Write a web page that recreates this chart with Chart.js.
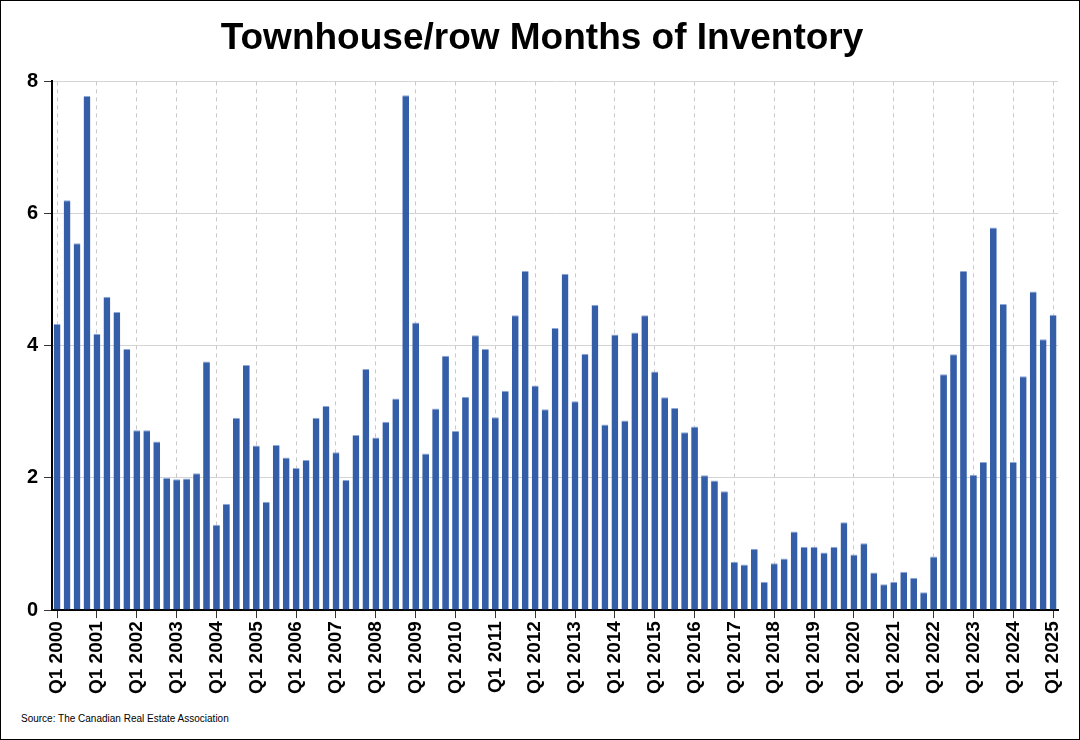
<!DOCTYPE html>
<html><head><meta charset="utf-8">
<script src="https://cdn.jsdelivr.net/npm/chart.js@4"></script>
<style>
html,body{margin:0;padding:0;background:#fff;}
#wrap{position:relative;width:1078px;height:738px;border:1px solid #000;}
#src{position:absolute;left:20px;top:712px;font:10px "Liberation Sans",Arial,sans-serif;color:#000;}
</style></head><body>
<div id="wrap"><canvas id="c" width="1078" height="696"></canvas><div id="src">Source: The Canadian Real Estate Association</div></div>
<script>
const years = [];
for (let y = 2000; y <= 2025; y++) years.push(y);
const categories = [];
years.forEach(y => { for (let q = 1; q <= 4; q++) if (y < 2025 || q === 1) categories.push('Q' + q + ' ' + y); });
const values = [
4.33,6.2,5.55,7.78, 4.18,4.74,4.51,3.95, 2.72,2.72,2.55,2.0, 1.98,1.99,2.07,3.76,
1.29,1.61,2.91,3.71, 2.49,1.64,2.5,2.31, 2.15,2.27,2.91,3.09, 2.39,1.97,2.65,3.65,
2.61,2.85,3.2,7.79, 4.35,2.37,3.05,3.85, 2.71,3.23,4.16,3.95, 2.92,3.32,4.46,5.13,
3.40,3.04,4.27,5.09, 3.16,3.88,4.62,2.81, 4.17,2.87,4.20,4.46, 3.61,3.22,3.06,2.69,
2.78,2.04,1.96,1.80, 0.73,0.69,0.93,0.43, 0.71,0.78,1.19,0.96, 0.96,0.87,0.96,1.33,
0.84,1.01,0.57,0.39, 0.43,0.58,0.49,0.27, 0.81,3.57,3.87,5.13, 2.05,2.24,5.79,4.63,
2.24,3.54,4.82,4.10, 4.47];
const yTicks = [0,2,4,6,8];
const isQ1 = i => categories[i] && categories[i].startsWith('Q1');
new Chart(document.getElementById('c'), {
  type: 'bar',
  data: { labels: categories, datasets: [{ data: values, backgroundColor: '#345ea8', borderColor: '#8fa8d6', borderWidth: {top:1}, borderSkipped: 'bottom', categoryPercentage: 0.68, barPercentage: 1 }] },
  options: {
    responsive: false, animation: false,
    layout: { padding: { left: 20, right: 16, top: 0, bottom: 0 } },
    plugins: {
      legend: { display: false }, tooltip: { enabled: false },
      title: { display: true, text: 'Townhouse/row Months of Inventory', color: '#000', font: { family: '"Liberation Sans", Arial', size: 37, weight: 'bold' }, padding: { top: 16, bottom: 20 } }
    },
    scales: {
      x: {
        offset: true,
        grid: { offset: false, color: ctx => isQ1(ctx.index) ? '#c8c8c8' : 'rgba(0,0,0,0)', tickColor: ctx => isQ1(ctx.index) ? '#333' : 'rgba(0,0,0,0)', tickLength: 8, drawOnChartArea: true },
        border: { color: '#000', width: 2, dash: [4,4] },
        ticks: { autoSkip: false, maxRotation: 90, minRotation: 90, color: '#000', font: { family: '"Liberation Sans", Arial', size: 19, weight: 'bold' }, callback: (v, i) => isQ1(i) ? categories[i] : '' }
      },
      y: {
        min: 0, max: 8,
        afterBuildTicks: s => { s.ticks = yTicks.map(v => ({ value: v })); },
        grid: { color: '#d4d4d4', tickColor: '#333', tickLength: 8 },
        border: { color: '#000', width: 2 },
        ticks: { color: '#000', padding: 6, font: { family: '"Liberation Sans", Arial', size: 20, weight: 'bold' } }
      }
    }
  }
});
</script></body></html>
